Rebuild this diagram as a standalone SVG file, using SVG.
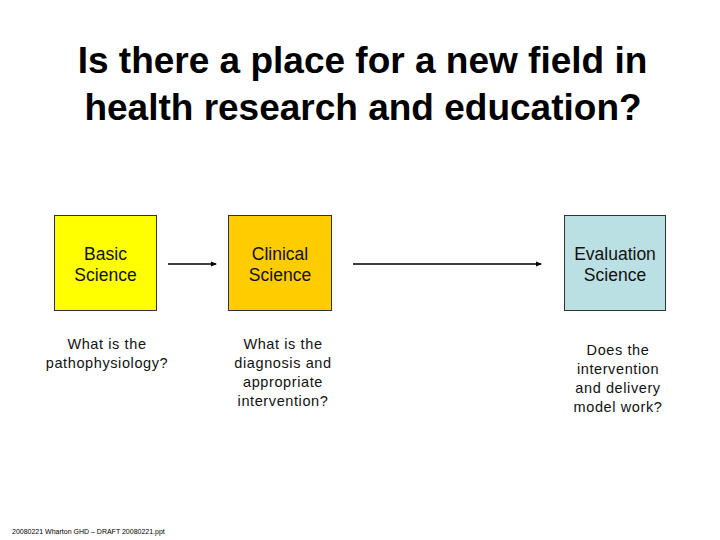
<svg xmlns="http://www.w3.org/2000/svg" width="720" height="540" viewBox="0 0 720 540">
<defs>
<style>
.title{font-family:"Liberation Sans",Arial,sans-serif;font-weight:bold;font-size:37px;fill:#000;text-anchor:middle}
.lbl{font-family:"Liberation Sans",Arial,sans-serif;font-size:17.5px;fill:#111;text-anchor:middle}
.q{font-family:"Liberation Sans",Arial,sans-serif;font-size:14.5px;letter-spacing:0.6px;fill:#111;text-anchor:middle}
.box{stroke:#333;stroke-width:1}
.conn{stroke:#000;stroke-width:1.5;fill:none;marker-end:url(#ah)}
.foot{font-family:"Liberation Sans",Arial,sans-serif;font-size:7px;fill:#000}
</style>
<marker id="ah" markerWidth="6" markerHeight="6" refX="5" refY="3" orient="auto" markerUnits="userSpaceOnUse">
<path d="M0,0.5 L6,3 L0,5.5 z" fill="#000"/>
</marker>
</defs>
<rect width="720" height="540" fill="#fff"/>
<text class="title" x="362.5" y="73">Is there a place for a new field in</text>
<text class="title" x="363" y="120">health research and education?</text>
<g id="basic">
<rect class="box" x="54.5" y="215.5" width="102" height="95" fill="#FFFF00"/>
<text class="lbl" x="105.5" y="260">Basic</text>
<text class="lbl" x="105.5" y="281">Science</text>
<text class="q" x="107" y="349">What is the</text>
<text class="q" x="107" y="368">pathophysiology?</text>
</g>
<g id="clinical">
<rect class="box" x="228.5" y="215.5" width="103" height="95" fill="#FFCC00"/>
<text class="lbl" x="280" y="260">Clinical</text>
<text class="lbl" x="280" y="281">Science</text>
<text class="q" x="283" y="349">What is the</text>
<text class="q" x="283" y="368">diagnosis and</text>
<text class="q" x="283" y="387">appropriate</text>
<text class="q" x="283" y="406">intervention?</text>
</g>
<g id="evaluation">
<rect class="box" x="564.5" y="215.5" width="101" height="95" fill="#BBE0E3"/>
<text class="lbl" x="615" y="260">Evaluation</text>
<text class="lbl" x="615" y="281">Science</text>
<text class="q" x="618" y="355">Does the</text>
<text class="q" x="618" y="374">intervention</text>
<text class="q" x="618" y="393">and delivery</text>
<text class="q" x="618" y="412">model work?</text>
</g>
<g id="connectors">
<line class="conn" x1="168" y1="264" x2="216" y2="264"/>
<line class="conn" x1="353" y1="264" x2="541" y2="264"/>
</g>
<text class="foot" x="12" y="534">20080221 Wharton GHD – DRAFT 20080221.ppt</text>
</svg>
